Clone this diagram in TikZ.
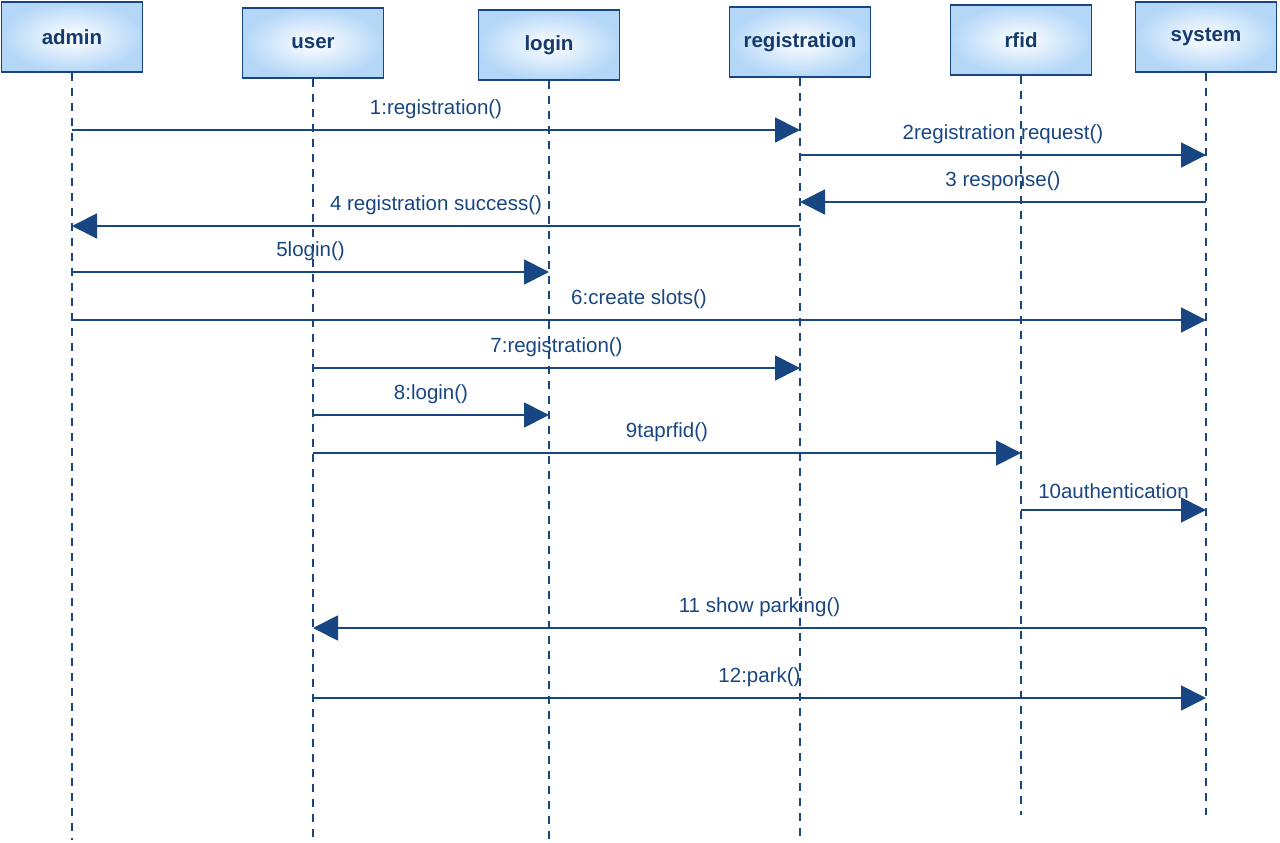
\documentclass[tikz,border=0pt]{standalone}
\usepackage{fontspec}
\setmainfont{Liberation Sans}
\usetikzlibrary{arrows.meta}
\definecolor{umlBlue}{RGB}{24,70,130}
\definecolor{umlFill}{RGB}{180,215,248}

\begin{document}
\begin{tikzpicture}[x=1pt, y=-1pt,
  object/.style={draw=umlBlue, line width=1.8pt, minimum width=141pt, minimum height=70pt,
    inner color=white, outer color=umlFill, text=umlBlue!85!black,
    font=\bfseries\fontsize{20.5}{24}\selectfont},
  lifeline/.style={umlBlue, line width=1.6pt, dash pattern=on 8pt off 7pt},
  message/.style={umlBlue, line width=1.8pt, -{Triangle[length=25pt, width=25pt]}},
  msglabel/.style={midway, above=7pt, text=umlBlue, font=\fontsize{20.5}{24}\selectfont}]

  \useasboundingbox (0,0) rectangle (1280,843);

  % objects on top
  \node[object] (admin)        at (72,37)   {admin};
  \node[object] (user)         at (313,43)  {user};
  \node[object] (login)        at (549,45)  {login};
  \node[object] (registration) at (800,42)  {registration};
  \node[object] (rfid)         at (1021,40) {rfid};
  \node[object] (system)       at (1206,37) {system};

  % lifelines
  \coordinate (adminEnd)        at (admin |- 0,840);
  \coordinate (userEnd)         at (user |- 0,840);
  \coordinate (loginEnd)        at (login |- 0,840);
  \coordinate (registrationEnd) at (registration |- 0,840);
  \coordinate (rfidEnd)         at (rfid |- 0,815);
  \coordinate (systemEnd)       at (system |- 0,815);
  \draw[lifeline] (admin.south) -- (adminEnd);
  \draw[lifeline] (user.south) -- (userEnd);
  \draw[lifeline] (login.south) -- (loginEnd);
  \draw[lifeline] (registration.south) -- (registrationEnd);
  \draw[lifeline] (rfid.south) -- (rfidEnd);
  \draw[lifeline] (system.south) -- (systemEnd);

  % messages
  \draw[message] (admin |- 0,130) -- (registration |- 0,130) node[msglabel] {1:registration()};
  \draw[message] (registration |- 0,155) -- (system |- 0,155) node[msglabel] {2registration request()};
  \draw[message] (system |- 0,202) -- (registration |- 0,202) node[msglabel] {3 response()};
  \draw[message] (registration |- 0,226) -- (admin |- 0,226) node[msglabel] {4 registration success()};
  \draw[message] (admin |- 0,272) -- (login |- 0,272) node[msglabel] {5login()};
  \draw[message] (admin |- 0,320) -- (system |- 0,320) node[msglabel] {6:create slots()};
  \draw[message] (user |- 0,368) -- (registration |- 0,368) node[msglabel] {7:registration()};
  \draw[message] (user |- 0,415) -- (login |- 0,415) node[msglabel] {8:login()};
  \draw[message] (user |- 0,453) -- (rfid |- 0,453) node[msglabel] {9taprfid()};
  \draw[message] (rfid |- 0,510) -- (system |- 0,510) node[msglabel] {10authentication};
  \draw[message] (system |- 0,628) -- (user |- 0,628) node[msglabel] {11 show parking()};
  \draw[message] (user |- 0,698) -- (system |- 0,698) node[msglabel] {12:park()};

\end{tikzpicture}
\end{document}
